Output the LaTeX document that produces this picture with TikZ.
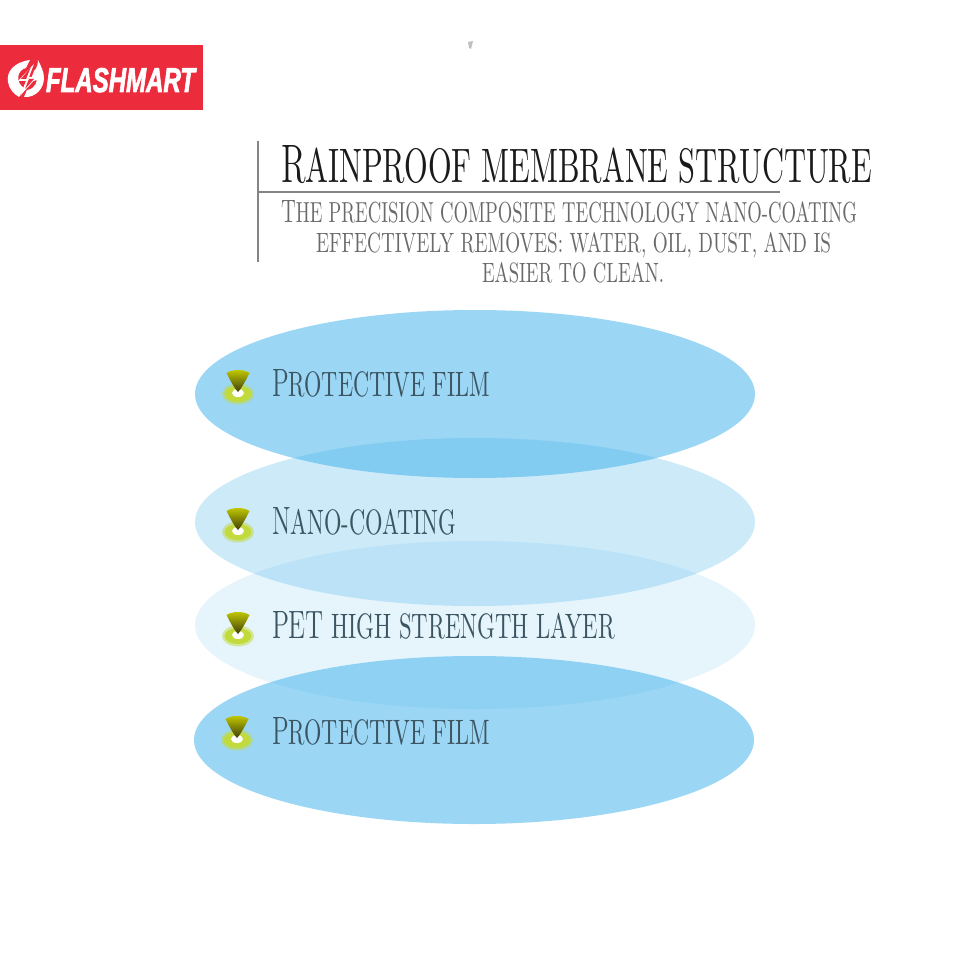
\documentclass[tikz,border=0pt]{standalone}
\usepackage{fontspec}
\usepackage{graphicx}
\usetikzlibrary{shapes.geometric}
\newfontfamily\logofont[BoldItalicFeatures={FakeBold=2.5}]{Liberation Sans}
\definecolor{layerblue}{HTML}{39AEEB}
\definecolor{ruleg}{HTML}{858585}
\definecolor{subg}{HTML}{6A6A6A}
\definecolor{labelc}{HTML}{3C5563}
\definecolor{titlec}{HTML}{1A1A1A}
\definecolor{logored}{HTML}{EC2C3C}
\definecolor{ringg}{HTML}{C2DA3C}
\definecolor{conetop}{HTML}{C6CC00}
\definecolor{conemid}{HTML}{8E8F0A}
\definecolor{conedark}{HTML}{3E3E08}
\newcommand{\fitted}[3]{\resizebox{#1pt}{#2pt}{#3}}
\newcommand{\bc}[1]{{\fontsize{11.2}{12}\selectfont #1}}
\tikzset{
  layer/.style={ellipse,minimum width=560pt,minimum height=168pt,inner sep=0pt,fill=layerblue},
  tx/.style={anchor=base west,inner sep=0pt,outer sep=0pt},
  rulel/.style={draw=ruleg,line width=2pt},
  pics/bullet/.style={code={
    \fill[ringg,opacity=.5] (0,2) ellipse (16pt and 10.5pt);
    \fill[ringg] (0,2) ellipse (13.5pt and 8pt);
    \fill[white] (0,1) ellipse (6pt and 4pt);
    \shade[top color=conetop,middle color=conemid,bottom color=conedark]
      (-11.5,-19) .. controls (-6,-23) and (6,-23) .. (11.5,-19) .. controls (7,-10) and (3,-3) .. (0,0)
      .. controls (-3,-3) and (-7,-10) .. (-11.5,-19) -- cycle;
  }}
}
\begin{document}
\begin{tikzpicture}[x=1pt,y=-1pt]
\useasboundingbox (0,0) rectangle (960,960);
\fill[white] (0,0) rectangle (960,960);
% logo
\fill[logored] (0,45) rectangle (203,110);
\fill[white] (30,60) .. controls (14,62) and (6,72) .. (8,82) .. controls (9,89) and (14,94) .. (19,97)
  -- (24,88) .. controls (15,82) and (17,70) .. (26,68) -- cycle;
\fill[white] (24,97) .. controls (36,98) and (44,88) .. (44,78) .. controls (44,72) and (41,66) .. (38,60)
  .. controls (38,66) and (36,69) .. (34,71) -- (30,82) -- (37,80) .. controls (36,86) and (31,90) .. (27,90) -- cycle;
\fill[white] (34,64) -- (18,81) -- (26,81) -- (20,96) -- (37,77) -- (29,77) -- cycle;
\fill[logored] (31,67) -- (21,79) -- (29,79) -- (25,89) -- (34,79) -- (26,79) -- cycle;
\node[tx] (logo) at (46,92) {\fitted{149}{24}{\logofont\bfseries\itshape\textcolor{white}{FLASHMART}}};
% speck
\fill[gray!50] (468,42) -- (473,41) -- (471,49) -- (469,48) -- cycle;
% layers
\node[layer,fill opacity=.5] (l1) at (475,394) {};
\node[layer,fill opacity=.25] (l2) at (475,522) {};
\node[layer,fill opacity=.12] (l3) at (475,625) {};
\node[layer,fill opacity=.5] (l4) at (474,740) {};
% header rules
\coordinate (vt) at (258,141); \coordinate (vb) at (258,262);
\coordinate (hl) at (258,192); \coordinate (hr) at (780,192);
\draw[rulel] (vt) -- (vb);
\draw[rulel] (hl) -- (hr);
% heading
\node[tx,text=titlec] (title) at (281,183) {\fitted{591}{37}{\bc{R}AINPROOF MEMBRANE STRUCTURE}};
\node[tx,text=subg] (s1) at (281,222) {\fitted{576}{22}{\bc{T}HE PRECISION COMPOSITE TECHNOLOGY NANO-COATING}};
\node[tx,text=subg] (s2) at (316,252) {\fitted{515}{20}{EFFECTIVELY REMOVES: WATER, OIL, DUST, AND IS}};
\node[tx,text=subg] (s3) at (482,282) {\fitted{182}{20}{EASIER TO CLEAN.}};
% bullets
\pic at (238,392) {bullet};
\pic at (238,530) {bullet};
\pic at (238,634) {bullet};
\pic at (237,738) {bullet};
% labels
\node[tx,text=labelc] (t1) at (272,396) {\fitted{218}{27}{\bc{P}ROTECTIVE FILM}};
\node[tx,text=labelc] (t2) at (272,534) {\fitted{184}{27}{\bc{N}ANO-COATING}};
\node[tx,text=labelc] (t3) at (272,638) {\fitted{343}{27}{\bc{PET} HIGH STRENGTH LAYER}};
\node[tx,text=labelc] (t4) at (272,744) {\fitted{218}{27}{\bc{P}ROTECTIVE FILM}};
\end{tikzpicture}
\end{document}
